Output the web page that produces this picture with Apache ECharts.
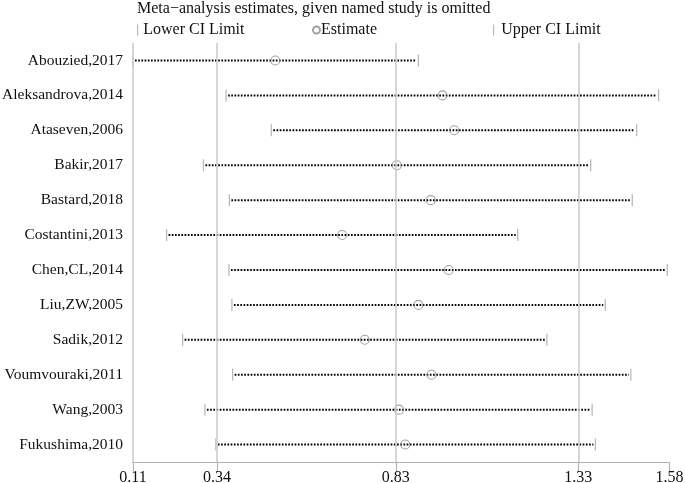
<!DOCTYPE html>
<html><head><meta charset="utf-8">
<script src="https://cdn.jsdelivr.net/npm/echarts@6/dist/echarts.min.js"></script>
<style>html,body{margin:0;padding:0;background:#fff}#c{width:685px;height:483px}</style>
</head><body><div id="c"></div>
<script>
const studies = ['Abouzied,2017','Aleksandrova,2014','Ataseven,2006','Bakir,2017','Bastard,2018','Costantini,2013','Chen,CL,2014','Liu,ZW,2005','Sadik,2012','Voumvouraki,2011','Wang,2003','Fukushima,2010'];
const lower    = [0.11, 0.365, 0.489, 0.303, 0.374, 0.202, 0.373, 0.381, 0.246, 0.383, 0.307, 0.337];
const estimate = [0.50, 0.958, 0.990, 0.833, 0.926, 0.683, 0.975, 0.892, 0.745, 0.928, 0.839, 0.856];
const upper    = [0.892, 1.550, 1.490, 1.364, 1.478, 1.164, 1.574, 1.404, 1.244, 1.474, 1.368, 1.377];
const tickValues = [0.11, 0.34, 0.83, 1.33, 1.58];
const refLines = [0.11, 0.34, 0.83, 1.33];
const titleText = 'Meta\u2212analysis estimates, given named study is omitted';

const FONT = 'Liberation Serif';
const chart = echarts.init(document.getElementById('c'), null, {renderer: 'canvas'});
const tickColor = '#a9a9a9';

chart.setOption({
  animation: false,
  backgroundColor: '#fff',
  title: {
    text: titleText, left: 137, top: 1, padding: 0,
    textStyle: {fontFamily: FONT, fontSize: 16, fontWeight: 'normal', color: '#111'}
  },
  legend: [
    {data: [{name: 'Lower CI Limit', icon: 'rect'}], left: 137, top: 22, padding: 0,
     itemWidth: 1.2, itemHeight: 11,
     textStyle: {fontFamily: FONT, fontSize: 16, color: '#111', padding: [0, 0, 0, 0]}},
    {data: [{name: 'Estimate', icon: 'circle'}], left: 312, top: 22, padding: 0,
     itemWidth: 7, itemHeight: 7,
     textStyle: {fontFamily: FONT, fontSize: 16, color: '#111', padding: [0, 0, 0, -4]}},
    {data: [{name: 'Upper CI Limit', icon: 'rect'}], left: 493, top: 22, padding: 0,
     itemWidth: 1.2, itemHeight: 11,
     textStyle: {fontFamily: FONT, fontSize: 16, color: '#111', padding: [0, 0, 0, 2]}}
  ],
  grid: {left: 133, right: 15.5, top: 43, bottom: 21, containLabel: false, outerBoundsMode: 'none'},
  xAxis: {
    type: 'value', min: 0.11, max: 1.58,
    axisLine: {show: true, lineStyle: {color: '#b5b2af', width: 1.2}},
    axisTick: {show: true, customValues: tickValues, length: 10, inside: false,
               lineStyle: {color: '#b5b2af', width: 1.2}},
    axisLabel: {show: true, customValues: tickValues, margin: 8,
                formatter: v => v.toFixed(2),
                fontFamily: FONT, fontSize: 16, color: '#111'},
    splitLine: {show: false}
  },
  yAxis: {
    type: 'category', data: studies, inverse: true,
    axisLine: {show: false}, axisTick: {show: false}, splitLine: {show: false},
    axisLabel: {fontFamily: FONT, fontSize: 15.5, color: '#111', margin: 10}
  },
  series: [
    {
      type: 'custom', name: 'ci', z: 2,
      data: studies.map((s, i) => [i, lower[i], upper[i]]),
      dimensions: ['y', 'lo', 'hi'],
      encode: {y: 0, x: [1, 2]},
      renderItem: function (params, api) {
        const a = api.coord([api.value(1), api.value(0)]);
        const b = api.coord([api.value(2), api.value(0)]);
        return {
          type: 'line',
          shape: {x1: a[0] + 2, y1: a[1], x2: b[0] - 2, y2: b[1]},
          style: {stroke: '#000', lineWidth: 2, lineDash: [1.7, 1.5]}
        };
      }
    },
    {
      type: 'scatter', name: 'Lower CI Limit', z: 3,
      data: studies.map((s, i) => [lower[i], i]),
      symbol: 'rect', symbolSize: [1.3, 12],
      itemStyle: {color: tickColor},
      markLine: {
        silent: true, symbol: 'none', label: {show: false},
        lineStyle: {color: '#cdc9c6', width: 1.5, type: 'solid'},
        data: refLines.map(v => ({xAxis: v}))
      }
    },
    {
      type: 'scatter', name: 'Upper CI Limit', z: 3,
      data: studies.map((s, i) => [upper[i], i]),
      symbol: 'rect', symbolSize: [1.3, 12],
      itemStyle: {color: tickColor}
    },
    {
      type: 'scatter', name: 'Estimate', z: 4,
      data: studies.map((s, i) => [estimate[i], i]),
      symbol: 'circle', symbolSize: 9,
      itemStyle: {color: 'rgba(255,255,255,0)', borderColor: '#8a8a8a', borderWidth: 1.1}
    }
  ]
});
</script>
</body></html>
